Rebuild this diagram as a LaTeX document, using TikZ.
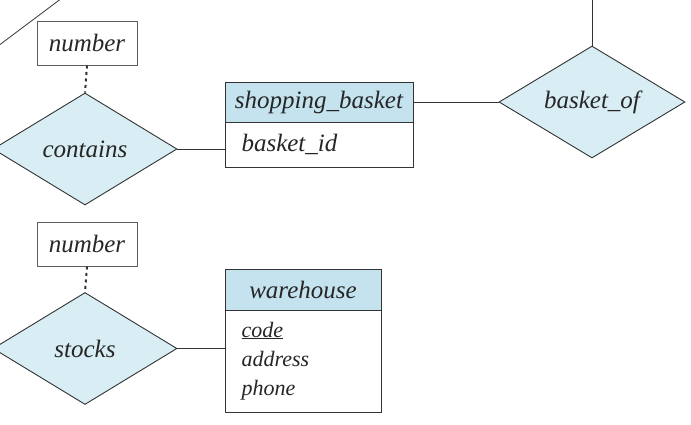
\documentclass[tikz,border=0pt]{standalone}
\usepackage{fontspec}
\setmainfont{Liberation Serif}
\usetikzlibrary{shapes.geometric}
\definecolor{relfill}{HTML}{D8EDF4}
\definecolor{headfill}{HTML}{C4E3EE}
\definecolor{ink}{HTML}{333333}
\tikzset{
  every node/.style={font=\fontsize{25}{29}\selectfont\itshape, text=black!85},
  rel/.style={diamond, draw=ink, line width=0.9pt, fill=relfill, inner sep=0pt, aspect=1.6},
  attrbox/.style={rectangle, draw=ink!80, line width=1pt, minimum width=100pt, minimum height=44pt, inner sep=0pt},
  head/.style={rectangle, draw=ink, line width=0.9pt, fill=headfill, inner sep=0pt},
  body/.style={rectangle, draw=ink, line width=0.9pt, fill=white, inner sep=0pt},
  conn/.style={draw=ink, line width=0.8pt},
  dotconn/.style={draw=ink, line width=2pt, dash pattern=on 3pt off 3.5pt},
  small/.style={font=\fontsize{22}{26}\selectfont\itshape}
}
\begin{document}
\begin{tikzpicture}[x=1pt,y=-1pt]
\useasboundingbox (0,0) rectangle (691,424);
% top-left diagonal line
\coordinate (d1) at (-2,46);
\coordinate (d2) at (62,-2);
\draw[conn] (d1) -- (d2);
% number 1
\node[attrbox] (num1) at (87,43) {number};
\node[rel, minimum width=184pt, minimum height=112pt] (contains) at (85,149) {contains};
\draw[dotconn] (num1.south) -- (contains.north);
% shopping basket
\node[head, minimum width=188pt, minimum height=40pt] (sbh) at (319,102) {shopping\_basket};
\node[body, minimum width=188pt, minimum height=45pt] (sbb) at (319,144.5) {};
\node[anchor=base west] (sbid) at (238,151) {basket\_id};
\draw[conn] (contains.east) -- (contains.east -| sbb.west);
% basket_of
\node[rel, minimum width=186pt, minimum height=112pt] (bof) at (592,102) {basket\_of};
\draw[conn] (sbh.east) -- (bof.west);
\coordinate (top) at (592,-2);
\draw[conn] (bof.north) -- (top);
% number 2
\node[attrbox] (num2) at (87,244) {number};
\node[rel, minimum width=184pt, minimum height=112pt] (stocks) at (85,348.5) {stocks};
\draw[dotconn] (num2.south) -- (stocks.north);
% warehouse
\node[head, minimum width=156pt, minimum height=41pt] (wh) at (303,289.5) {warehouse};
\node[body, minimum width=156pt, minimum height=102pt] (whb) at (303,361) {};
\node[small, anchor=base west] (wcode) at (238,337) {\underline{code}};
\node[small, anchor=base west] (waddr) at (238,366.5) {address};
\node[small, anchor=base west] (wphone) at (238,395) {phone};
\draw[conn] (stocks.east) -- (stocks.east -| whb.west);
\end{tikzpicture}
\end{document}
